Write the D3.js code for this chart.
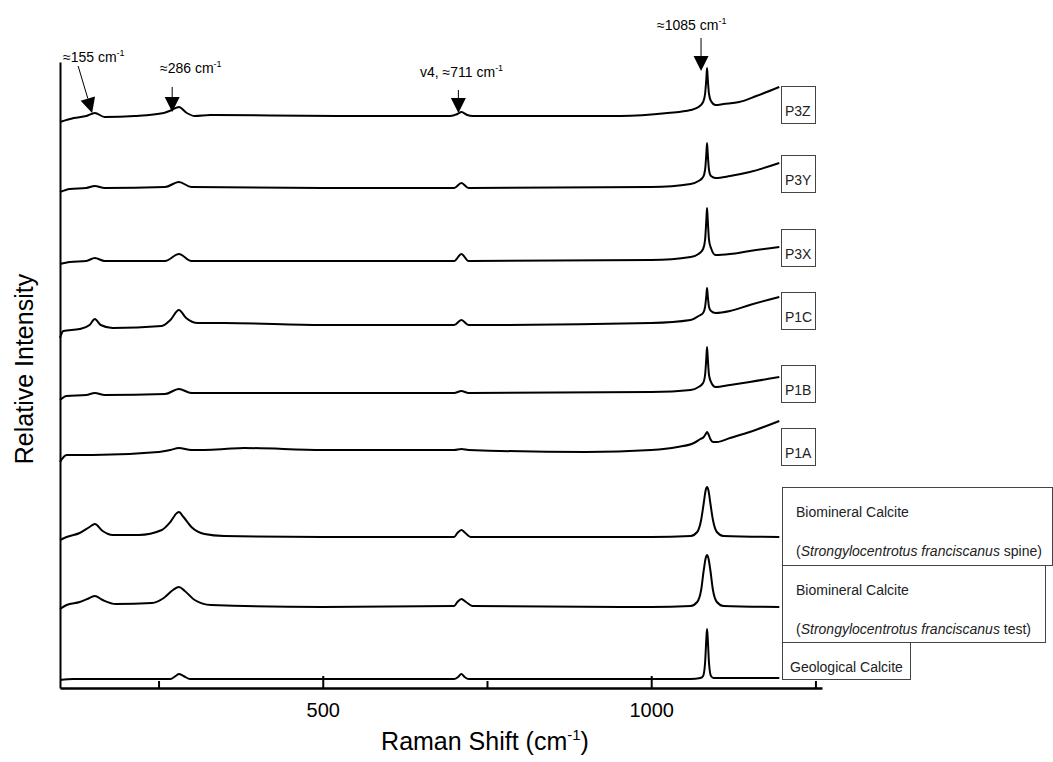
<!DOCTYPE html>
<html>
<head>
<meta charset="utf-8">
<script src="https://cdn.jsdelivr.net/npm/d3@7"></script>
<style>
  body { margin: 0; background: #fff; }
  text { font-family: "Liberation Sans", Arial, sans-serif; }
</style>
</head>
<body>
<div id="chart"></div>
<script>
// each trace: [Raman shift (cm-1), relative intensity incl. stacking offset]
var p3z = [[100,566],[121,570],[140,572],[153,575],[168,571],[214,572],[258,575],[270,578],[281,581],[293,575],[305,572],[329,573],[522,572],[694,572],[705,574],[711,576],[720,573],[728,572],[953,572],[1025,575],[1060,578],[1072,581],[1079,586],[1082,594],[1084,610],[1085,620],[1086,610],[1088,594],[1091,587],[1098,583],[1110,584],[1134,586],[1160,592],[1195,601]];
var p3y = [[100,496],[115,499],[140,500],[153,502],[168,500],[260,501],[281,506],[300,501],[500,500],[700,500],[711,505],[722,500],[1000,501],[1060,504],[1072,507],[1079,511],[1082,518],[1084,535],[1085,545],[1086,535],[1088,518],[1091,512],[1098,510],[1120,512],[1150,516],[1195,525]];
var p3x = [[100,424],[115,426],[140,427],[153,430],[168,427],[260,427],[281,434],[300,427],[500,427],[700,427],[711,434],[722,427],[1000,428],[1060,431],[1072,434],[1079,439],[1082,448],[1084,469],[1085,480],[1086,469],[1088,448],[1091,440],[1098,433],[1120,434],[1150,437],[1195,441]];
var p1c = [[100,350],[105,357],[130,359],[145,363],[153,369],[162,363],[180,360],[255,362],[268,368],[281,378],[292,370],[310,365],[350,365],[500,363],[700,363],[711,368],[722,363],[1000,365],[1060,368],[1072,372],[1079,375],[1082,381],[1084,393],[1085,400],[1086,393],[1088,381],[1091,377],[1098,375],[1120,377],[1150,383],[1195,391]];
var p1b = [[100,288],[110,292],[140,293],[153,295],[168,293],[260,294],[281,299],[300,295],[500,295],[700,295],[711,297],[722,295],[1000,296],[1060,298],[1072,301],[1079,305],[1082,313],[1084,331],[1085,341],[1086,331],[1088,313],[1091,306],[1098,301],[1120,303],[1150,306],[1195,311]];
var p1a = [[100,226],[110,233],[150,233],[250,236],[268,238],[281,240],[300,238],[350,239],[380,240],[500,238],[700,238],[711,239],[722,238],[900,236],[1000,238],[1040,241],[1065,245],[1075,249],[1080,251],[1083,254],[1085,256],[1087,254],[1090,249],[1094,246],[1100,246],[1120,250],[1150,256],[1195,267]];
var spine = [[100,148],[110,151],[130,155],[145,161],[153,164],[165,157],[180,153],[220,153],[255,158],[268,166],[278,175],[281,176],[288,171],[300,161],[320,154],[350,152],[500,151],[700,151],[705,155],[711,158],[717,155],[725,151],[1000,151],[1060,152],[1070,156],[1076,168],[1080,185],[1083,198],[1085,201],[1087,198],[1090,185],[1094,168],[1100,156],[1110,152],[1195,151]];
var test = [[100,79],[110,83],[130,86],[145,90],[153,92],[165,88],[185,84],[240,85],[258,90],[272,98],[281,101],[290,97],[305,88],[330,83],[500,81],[700,82],[705,86],[711,89],[718,86],[728,82],[1000,81],[1060,82],[1070,86],[1076,98],[1080,118],[1083,130],[1085,133],[1087,130],[1090,118],[1094,98],[1100,86],[1110,82],[1195,81]];
var geological = [[100,8],[120,9],[268,9],[276,12],[281,14],[288,12],[298,9],[700,9],[706,11],[711,14],[716,11],[722,9],[1000,9],[1060,9],[1075,10],[1079,12],[1082,25],[1084,50],[1085,59],[1086,50],[1088,25],[1091,12],[1095,10],[1110,10],[1195,10]];

var sampleNames = ["P3Z", "P3Y", "P3X", "P1C", "P1B", "P1A"];
var refNames = ["Biomineral Calcite", "Biomineral Calcite", "Geological Calcite"];
var refSpecies = ["spine", "test", ""];

var peakShift = [155, 286, 711, 1085];
var peakNotes = ["\u2248155 cm", "\u2248286 cm", "v4, \u2248711 cm", "\u22481085 cm"];

var majorTicks = [500, 1000];
var minorTicks = [250, 750, 1250];

var margin = {top: 62, right: 231, bottom: 74, left: 60},
    width = 1053 - margin.left - margin.right,
    height = 762 - margin.top - margin.bottom;

var svg = d3.select("#chart")
  .append("svg")
    .attr("width", 1053)
    .attr("height", 762)
  .append("g")
    .attr("transform", "translate(" + margin.left + "," + margin.top + ")");

var x = d3.scaleLinear()
  .domain([100, 1260])
  .range([0, width]);

var y = d3.scaleLinear()
  .domain([0, 626])
  .range([height, 0]);

// axes: ticks point inwards, only 500 and 1000 labelled
var xMajor = svg.append("g")
  .attr("transform", "translate(0," + height + ")")
  .call(d3.axisBottom(x).tickValues(majorTicks).tickFormat(d3.format("d"))
    .tickSizeInner(-12).tickSizeOuter(0).tickPadding(15));
xMajor.selectAll("text").attr("font-size", 20).attr("fill", "#000");
xMajor.selectAll("line").attr("stroke-width", 2);
xMajor.select(".domain").attr("stroke-width", 2.5);

var xMinor = svg.append("g")
  .attr("transform", "translate(0," + height + ")")
  .call(d3.axisBottom(x).tickValues(minorTicks).tickSizeInner(-7).tickSizeOuter(0).tickFormat(""));
xMinor.selectAll("line").attr("stroke-width", 2);
xMinor.select(".domain").remove();

var yAxis = svg.append("g")
  .call(d3.axisLeft(y).tickValues([]).tickSizeOuter(0));
yAxis.select(".domain").attr("stroke-width", 2);

// axis titles
var xTitle = svg.append("text")
  .attr("x", 425)
  .attr("y", height + 62)
  .attr("text-anchor", "middle")
  .attr("font-size", 25);
xTitle.append("tspan").text("Raman Shift (cm");
xTitle.append("tspan").attr("font-size", 15).attr("dy", -10).text("-1");
xTitle.append("tspan").attr("dy", 10).text(")");

svg.append("text")
  .attr("transform", "translate(-27," + (height / 2 - 6) + ") rotate(-90)")
  .attr("text-anchor", "middle")
  .attr("font-size", 25)
  .text("Relative Intensity");

// spectra
var line = d3.line()
  .x(function(d) { return x(d[0]) })
  .y(function(d) { return y(d[1]) })
  .curve(d3.curveMonotoneX);

var spectra = [p3z, p3y, p3x, p1c, p1b, p1a, spine, test, geological];
svg.selectAll(".spectrum")
  .data(spectra)
  .enter().append("path")
    .attr("class", "spectrum")
    .attr("fill", "none")
    .attr("stroke", "#000")
    .attr("stroke-width", 2)
    .attr("stroke-linejoin", "round")
    .attr("d", line);

// sample label boxes
var boxX = 721;
var sampleBoxTop = [24, 93, 167, 230, 303, 366];
sampleNames.forEach(function(name, i) {
  svg.append("rect")
    .attr("x", boxX + 0.5).attr("y", sampleBoxTop[i] + 0.5)
    .attr("width", 34).attr("height", 37)
    .attr("fill", "#fff").attr("stroke", "#444");
  svg.append("text")
    .attr("x", boxX + 4).attr("y", sampleBoxTop[i] + 30)
    .attr("font-size", 14).attr("fill", "#222")
    .text(name);
});

// reference label boxes
var refBoxTop = [425, 503, 580];
var refBoxW = [270, 263, 128];
var refBoxH = [78, 77, 37];
refNames.forEach(function(name, i) {
  svg.append("rect")
    .attr("x", boxX + 1.5).attr("y", refBoxTop[i] + 0.5)
    .attr("width", refBoxW[i]).attr("height", refBoxH[i])
    .attr("fill", "#fff").attr("stroke", "#444");
  if (refSpecies[i]) {
    svg.append("text")
      .attr("x", boxX + 15).attr("y", refBoxTop[i] + 30)
      .attr("font-size", 14).attr("fill", "#222")
      .text(name);
    var t = svg.append("text")
      .attr("x", boxX + 15).attr("y", refBoxTop[i] + 69)
      .attr("font-size", 14).attr("fill", "#222");
    t.append("tspan").text("(");
    t.append("tspan").attr("font-style", "italic").text("Strongylocentrotus franciscanus");
    t.append("tspan").text(" " + refSpecies[i] + ")");
  } else {
    svg.append("text")
      .attr("x", boxX + 9).attr("y", refBoxTop[i] + 30)
      .attr("font-size", 14).attr("fill", "#222")
      .text(name);
  }
});

// peak arrows on the top trace
var tipDx = [-4, -10, -3, -6];
var tipY = [51, 50, 51, 9];
var tailDx = [-18, -10, -3, -6];
var tailY = [4, 25, 28, -24];
var noteX = [3, 100, 360, 597];
var noteY = [0, 11, 15, -32];

peakShift.forEach(function(p, i) {
  var tx = x(p) + tipDx[i], ty = tipY[i];
  var sx = x(p) + tailDx[i], sy = tailY[i];
  var len = Math.hypot(tx - sx, ty - sy);
  var ux = (tx - sx) / len, uy = (ty - sy) / len;
  var bx = tx - ux * 15, by = ty - uy * 15;
  svg.append("line")
    .attr("x1", sx).attr("y1", sy).attr("x2", bx).attr("y2", by)
    .attr("stroke", "#000").attr("stroke-width", 1);
  svg.append("path")
    .attr("d", "M" + tx + "," + ty +
      "L" + (bx - uy * 7.5) + "," + (by + ux * 7.5) +
      "L" + (bx + uy * 7.5) + "," + (by - ux * 7.5) + "Z")
    .attr("fill", "#000");
  var note = svg.append("text")
    .attr("x", noteX[i]).attr("y", noteY[i])
    .attr("font-family", "Lato, 'Open Sans', sans-serif")
    .attr("font-size", 14);
  note.append("tspan").text(peakNotes[i]);
  note.append("tspan").attr("font-size", 9).attr("dy", -6).text("-1");
});
</script>
</body>
</html>
